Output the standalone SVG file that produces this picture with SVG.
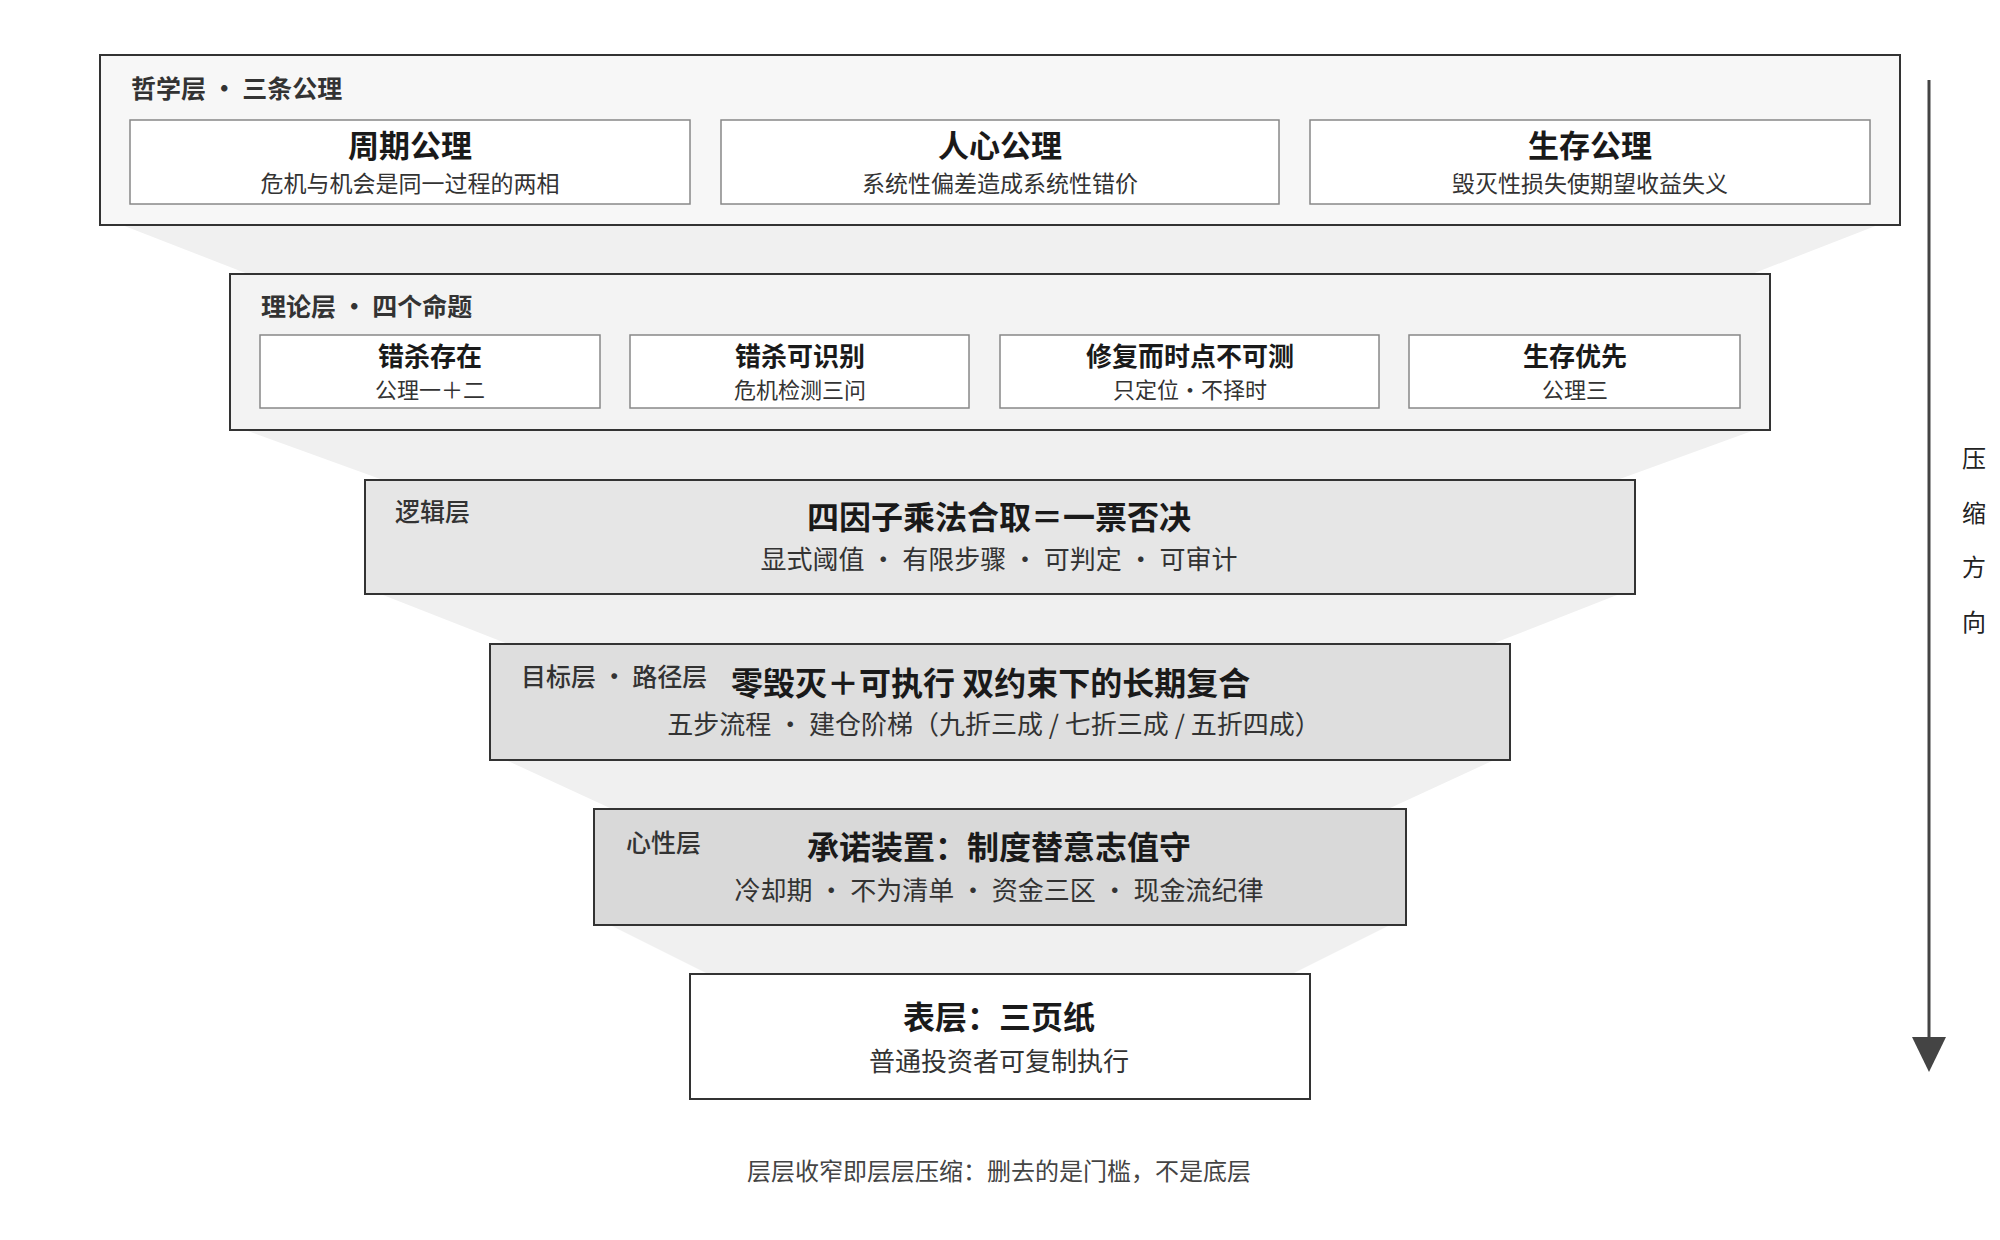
<svg xmlns="http://www.w3.org/2000/svg" width="2000" height="1240" viewBox="0 0 2000 1240">
<style>
text{font-family:"Noto Sans CJK SC","Liberation Sans",sans-serif;fill:#1a1a1a}
.layer{stroke:#333;stroke-width:2}
.card{fill:#fff;stroke:#888;stroke-width:1.5}
.lbl{font-size:25px;font-weight:bold;fill:#333}
.lbn{font-size:25px;font-weight:500;fill:#333}
.t1{font-size:31px;font-weight:bold;text-anchor:middle}
.s1{font-size:23px;text-anchor:middle;fill:#333}
.t2{font-size:26px;font-weight:bold;text-anchor:middle}
.s2{font-size:22px;text-anchor:middle;fill:#333}
.tm{font-size:32px;font-weight:bold;text-anchor:middle}
.sm{font-size:26px;text-anchor:middle;fill:#333}
.band{fill:#f0f0f0}
.v{font-size:24px;text-anchor:middle;fill:#222}
</style>
<g id="bands">
<polygon class="band" points="122,225 1878,225 1752,274 248,274"/>
<polygon class="band" points="248,431 1752,431 1617,480 383,480"/>
<polygon class="band" points="383,595 1617,595 1492,644 508,644"/>
<polygon class="band" points="508,761 1492,761 1388,809 612,809"/>
<polygon class="band" points="612,926 1388,926 1292,974 708,974"/>
</g>
<g id="philosophy">
<rect class="layer" x="100" y="55" width="1800" height="170" fill="#f7f7f7"/>
<text class="lbl" x="131" y="98">哲学层 · 三条公理</text>
<g id="axiom1"><rect class="card" x="130" y="120" width="560" height="84"/><text class="t1" x="410" y="157">周期公理</text><text class="s1" x="410" y="192">危机与机会是同一过程的两相</text></g>
<g id="axiom2"><rect class="card" x="721" y="120" width="558" height="84"/><text class="t1" x="1000" y="157">人心公理</text><text class="s1" x="1000" y="192">系统性偏差造成系统性错价</text></g>
<g id="axiom3"><rect class="card" x="1310" y="120" width="560" height="84"/><text class="t1" x="1590" y="157">生存公理</text><text class="s1" x="1590" y="192">毁灭性损失使期望收益失义</text></g>
</g>
<g id="theory">
<rect class="layer" x="230" y="274" width="1540" height="156" fill="#f3f3f3"/>
<text class="lbl" x="261" y="316">理论层 · 四个命题</text>
<g id="p1"><rect class="card" x="260" y="335" width="340" height="73"/><text class="t2" x="430" y="366">错杀存在</text><text class="s2" x="430" y="398">公理一＋二</text></g>
<g id="p2"><rect class="card" x="630" y="335" width="339" height="73"/><text class="t2" x="800" y="366">错杀可识别</text><text class="s2" x="800" y="398">危机检测三问</text></g>
<g id="p3"><rect class="card" x="1000" y="335" width="379" height="73"/><text class="t2" x="1190" y="366">修复而时点不可测</text><text class="s2" x="1190" y="398">只定位·不择时</text></g>
<g id="p4"><rect class="card" x="1409" y="335" width="331" height="73"/><text class="t2" x="1575" y="366">生存优先</text><text class="s2" x="1575" y="398">公理三</text></g>
</g>
<g id="logic">
<rect class="layer" x="365" y="480" width="1270" height="114" fill="#e6e6e6"/>
<text class="lbn" x="395" y="521">逻辑层</text>
<text class="tm" x="999" y="529">四因子乘法合取＝一票否决</text>
<text class="sm" x="999" y="569">显式阈值 · 有限步骤 · 可判定 · 可审计</text>
</g>
<g id="goal">
<rect class="layer" x="490" y="644" width="1020" height="116" fill="#dedede"/>
<text class="lbn" x="521" y="686">目标层 · 路径层</text>
<text class="tm" x="731" y="695" style="text-anchor:start">零毁灭＋可执行 双约束下的长期复合</text>
<text class="sm" x="994" y="734">五步流程 · 建仓阶梯（九折三成 / 七折三成 / 五折四成）</text>
</g>
<g id="mind">
<rect class="layer" x="594" y="809" width="812" height="116" fill="#d9d9d9"/>
<text class="lbn" x="626" y="852">心性层</text>
<text class="tm" x="999" y="859">承诺装置：制度替意志值守</text>
<text class="sm" x="999" y="900">冷却期 · 不为清单 · 资金三区 · 现金流纪律</text>
</g>
<g id="surface">
<rect class="layer" x="690" y="974" width="620" height="125" fill="#fff"/>
<text class="tm" x="999" y="1029">表层：三页纸</text>
<text class="sm" x="999" y="1071">普通投资者可复制执行</text>
</g>
<g id="connectors">
<line x1="1929" y1="80" x2="1929" y2="1040" stroke="#444" stroke-width="3"/>
<polygon points="1912,1037 1946,1037 1929,1072" fill="#444"/>
</g>
<g id="arrowlabel">
<text class="v" x="1974" y="467">压</text>
<text class="v" x="1974" y="522">缩</text>
<text class="v" x="1974" y="576">方</text>
<text class="v" x="1974" y="631">向</text>
</g>
<text x="999" y="1180" text-anchor="middle" style="font-size:24px;fill:#444">层层收窄即层层压缩：删去的是门槛，不是底层</text>
</svg>
